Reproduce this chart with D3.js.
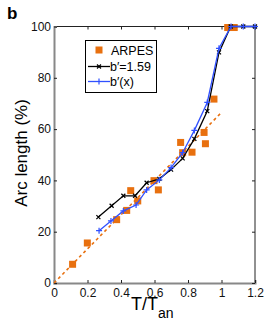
<!DOCTYPE html>
<html>
<head>
<meta charset="UTF-8">
<script src="https://d3js.org/d3.v7.min.js"></script>
<style>
  body { margin: 0; background: #fff; }
  text { font-family: "Liberation Sans", Arial, sans-serif; }
</style>
</head>
<body>
<svg id="chart"></svg>
<script>
    // ARPES 測定点
    var arpesX = [0.111, 0.199, 0.374, 0.434, 0.458, 0.500, 0.597, 0.623, 0.756, 0.768, 0.824, 0.896, 0.904, 0.955, 1.037, 1.076];
    var arpesY = [7.3, 15.6, 24.7, 28.3, 36.0, 32.0, 39.9, 36.3, 54.8, 50.8, 51.0, 58.7, 54.3, 71.7, 99.6, 99.6];

    // b'=1.59 (黒)
    var blackX = [0.265, 0.344, 0.414, 0.484, 0.553, 0.629, 0.699, 0.768, 0.838, 0.915, 0.985, 1.055, 1.13, 1.2];
    var blackY = [25.7, 30.1, 34.0, 34.0, 39.1, 40.6, 44.2, 48.6, 56.2, 67.0, 89.9, 100, 100, 100];

    // b'(x) (青)
    var blueX = [0.269, 0.340, 0.414, 0.490, 0.553, 0.629, 0.699, 0.768, 0.838, 0.915, 0.985, 1.057, 1.13, 1.2];
    var blueY = [20.4, 24.2, 28.1, 30.4, 36.3, 40.2, 45.0, 50.8, 59.5, 70.4, 91.5, 100, 100, 100];

    // 線形フィット (破線)
    var fitX = [0, 1.0];
    var fitY = [0, 66.5];

    var xTicks = [0, 0.2, 0.4, 0.6, 0.8, 1, 1.2];
    var yTicks = [0, 20, 40, 60, 80, 100];

    var width = 273, height = 327;
    var svg = d3.select("#chart").attr("width", width).attr("height", height);

    var x = d3.scaleLinear().domain([0, 1.2]).range([54, 255]);
    var y = d3.scaleLinear().domain([0, 100]).range([283, 26.5]);

    var orange = "#e8700f", blue = "#3050ff";

    // 枠 (上と右は細い黒)
    svg.append("line").attr("x1", 54).attr("x2", 255).attr("y1", 26.5).attr("y2", 26.5).attr("stroke", "#222").attr("stroke-width", 1);
    svg.append("line").attr("x1", 255).attr("x2", 255).attr("y1", 26.5).attr("y2", 283).attr("stroke", "#222").attr("stroke-width", 1);

    // 目盛り（内向き）
    var xAxis = svg.append("g").attr("transform", "translate(0,283)")
        .call(d3.axisBottom(x).tickValues(xTicks).tickSize(-3).tickPadding(5).tickFormat(d3.format("~g")));
    var xTop = svg.append("g").attr("transform", "translate(0,26.5)")
        .call(d3.axisTop(x).tickValues(xTicks).tickSize(-3).tickFormat(""));
    var yAxis = svg.append("g").attr("transform", "translate(54,0)")
        .call(d3.axisLeft(y).tickValues(yTicks).tickSize(-3).tickPadding(3));
    var yRight = svg.append("g").attr("transform", "translate(255,0)")
        .call(d3.axisRight(y).tickValues(yTicks).tickSize(-3).tickFormat(""));

    [xTop, yRight].forEach(function(g) {
        g.select(".domain").remove();
        g.selectAll(".tick line").attr("stroke", "#222");
    });
    [xAxis, yAxis].forEach(function(g) {
        g.select(".domain").attr("stroke", "#888").attr("stroke-width", 2);
        g.selectAll(".tick line").attr("stroke", "#222");
        g.selectAll(".tick text").attr("font-size", 12).attr("fill", "#111")
            .attr("font-family", "'Liberation Sans', Arial, sans-serif");
    });
    xAxis.selectAll(".tick text").attr("dy", "0.75em");

    var line = d3.line().x(function(d) { return x(d[0]); }).y(function(d) { return y(d[1]); });

    // 破線
    svg.append("path")
        .attr("d", line(d3.zip(fitX, fitY)))
        .attr("fill", "none").attr("stroke", orange).attr("stroke-width", 1.6)
        .attr("stroke-dasharray", "3,3");

    // ARPES 四角
    svg.append("g").selectAll("rect")
        .data(d3.zip(arpesX, arpesY)).enter()
        .append("rect")
        .attr("x", function(d) { return x(d[0]) - 3.5; })
        .attr("y", function(d) { return y(d[1]) - 3.5; })
        .attr("width", 7).attr("height", 7)
        .attr("fill", orange);

    // 黒線 × マーカー
    var blackData = d3.zip(blackX, blackY);
    svg.append("path").attr("d", line(blackData))
        .attr("fill", "none").attr("stroke", "#000").attr("stroke-width", 1.3);
    svg.append("g").selectAll("path")
        .data(blackData).enter().append("path")
        .attr("d", function(d) {
            var cx = x(d[0]), cy = y(d[1]), s = 2;
            return "M" + (cx - s) + "," + (cy - s) + "L" + (cx + s) + "," + (cy + s) +
                "M" + (cx - s) + "," + (cy + s) + "L" + (cx + s) + "," + (cy - s);
        })
        .attr("stroke", "#000").attr("stroke-width", 1.2);

    // 青線 + マーカー
    var blueData = d3.zip(blueX, blueY);
    svg.append("path").attr("d", line(blueData))
        .attr("fill", "none").attr("stroke", blue).attr("stroke-width", 1.3);
    svg.append("g").selectAll("path")
        .data(blueData).enter().append("path")
        .attr("d", function(d) {
            var cx = x(d[0]), cy = y(d[1]), s = 3;
            return "M" + (cx - s) + "," + cy + "L" + (cx + s) + "," + cy +
                "M" + cx + "," + (cy - s) + "L" + cx + "," + (cy + s);
        })
        .attr("stroke", blue).attr("stroke-width", 1.2);

    // 凡例
    var lg = svg.append("g");
    lg.append("rect").attr("x", 85.5).attr("y", 40.5).attr("width", 71).attr("height", 52)
        .attr("fill", "#fff").attr("stroke", "#000").attr("stroke-width", 1);
    lg.append("rect").attr("x", 95.5).attr("y", 46.5).attr("width", 7).attr("height", 7).attr("fill", orange);
    lg.append("text").attr("x", 111).attr("y", 54.5).attr("font-size", 12.5).text("ARPES");
    lg.append("line").attr("x1", 88).attr("x2", 110).attr("y1", 66.5).attr("y2", 66.5).attr("stroke", "#000").attr("stroke-width", 1.3);
    lg.append("path").attr("d", "M97,64.5L101,68.5M97,68.5L101,64.5").attr("stroke", "#000").attr("stroke-width", 1.2);
    lg.append("text").attr("x", 110).attr("y", 71).attr("font-size", 12.5).text("b\u2032=1.59");
    lg.append("line").attr("x1", 88).attr("x2", 110).attr("y1", 81.5).attr("y2", 81.5).attr("stroke", blue).attr("stroke-width", 1.3);
    lg.append("path").attr("d", "M96,81.5L102,81.5M99,78.5L99,84.5").attr("stroke", blue).attr("stroke-width", 1.2);
    lg.append("text").attr("x", 110).attr("y", 86).attr("font-size", 12.5).text("b\u2032(x)");

    // 軸ラベル
    svg.append("text").attr("transform", "translate(27,153) rotate(-90)")
        .attr("text-anchor", "middle").attr("font-size", 17).text("Arc length (%)");
    var xl = svg.append("text").attr("x", 131).attr("y", 310).attr("font-size", 18);
    xl.append("tspan").text("T/T");
    xl.append("tspan").attr("font-size", 14).attr("dy", 8).text("an");

    // パネル記号
    svg.append("text").attr("x", 7).attr("y", 19).attr("font-size", 17).attr("font-weight", "bold").text("b");
</script>
</body>
</html>
